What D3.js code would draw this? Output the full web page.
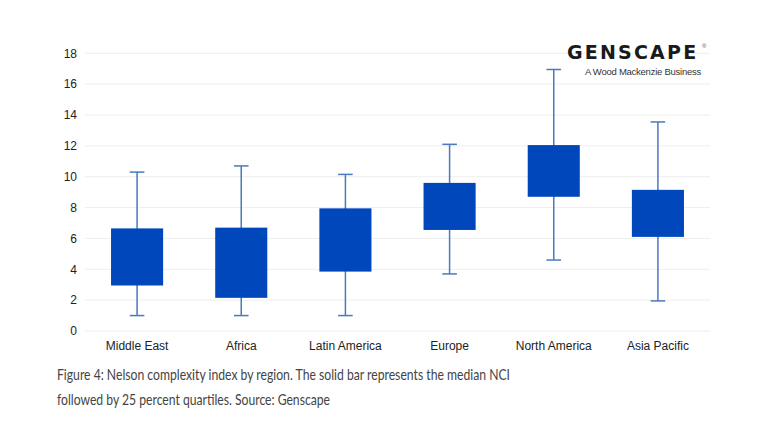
<!DOCTYPE html>
<html>
<head>
<meta charset="utf-8">
<script src="https://cdn.jsdelivr.net/npm/d3@7"></script>
<style>
  body { margin: 0; background: #fff; }
  svg text { font-family: "Liberation Sans", Arial, sans-serif; }
</style>
</head>
<body>
<div id="chart"></div>
<script>
var regions = ["Middle East", "Africa", "Latin America", "Europe", "North America", "Asia Pacific"];
var whiskerMin = [1.0, 1.0, 1.0, 3.7, 4.6, 1.95];
var quartileLow = [2.95, 2.15, 3.85, 6.55, 8.7, 6.1];
var quartileHigh = [6.65, 6.7, 7.95, 9.6, 12.05, 9.15];
var whiskerMax = [10.3, 10.7, 10.15, 12.1, 16.95, 13.55];
var yTicks = [0, 2, 4, 6, 8, 10, 12, 14, 16, 18];

var data = regions.map(function(r, i) {
    return { bucket: r, min: whiskerMin[i], q1: quartileLow[i], q3: quartileHigh[i], max: whiskerMax[i] };
});

var svg = d3.select("#chart")
    .append("svg")
    .attr("width", 766)
    .attr("height", 442);

var x = d3.scaleBand().domain(regions).range([85, 710]);
var y = d3.scaleLinear().domain([0, 18]).range([331, 53.3]);

// grid
svg.append("g").selectAll("line")
    .data(yTicks).enter()
    .append("line")
    .attr("x1", 85).attr("x2", 710)
    .attr("y1", function(d) { return y(d); })
    .attr("y2", function(d) { return y(d); })
    .attr("stroke", "#eeeeee")
    .attr("stroke-width", 1);

var yAxis = svg.append("g")
    .attr("transform", "translate(85,0)")
    .call(d3.axisLeft(y).tickValues(yTicks).tickSize(0).tickPadding(8));
yAxis.select(".domain").remove();
yAxis.selectAll("text").attr("font-size", 12).attr("fill", "#222")
    .style("font-family", "Liberation Sans, Arial, sans-serif");

var xAxis = svg.append("g")
    .attr("transform", "translate(0,331)")
    .call(d3.axisBottom(x).tickSize(0).tickPadding(10));
xAxis.select(".domain").remove();
xAxis.selectAll("text").attr("font-size", 12).attr("fill", "#222")
    .style("font-family", "Liberation Sans, Arial, sans-serif");

var boxWidth = 0.5 * x.bandwidth();
var capWidth = 0.14 * x.bandwidth();
var center = function(d) { return x(d.bucket) + x.bandwidth() / 2; };
var whiskerColor = "#4a78c2";

var boxes = svg.selectAll("g.box")
    .data(data).enter()
    .append("g")
    .attr("class", "box");

boxes.append("line")
    .attr("x1", center).attr("x2", center)
    .attr("y1", function(d) { return y(d.max); })
    .attr("y2", function(d) { return y(d.min); })
    .attr("stroke", whiskerColor).attr("stroke-width", 1.5);

boxes.append("line")
    .attr("x1", function(d) { return center(d) - capWidth / 2; })
    .attr("x2", function(d) { return center(d) + capWidth / 2; })
    .attr("y1", function(d) { return y(d.max); })
    .attr("y2", function(d) { return y(d.max); })
    .attr("stroke", whiskerColor).attr("stroke-width", 1.5);

boxes.append("line")
    .attr("x1", function(d) { return center(d) - capWidth / 2; })
    .attr("x2", function(d) { return center(d) + capWidth / 2; })
    .attr("y1", function(d) { return y(d.min); })
    .attr("y2", function(d) { return y(d.min); })
    .attr("stroke", whiskerColor).attr("stroke-width", 1.5);

boxes.append("rect")
    .attr("x", function(d) { return center(d) - boxWidth / 2; })
    .attr("y", function(d) { return y(d.q3); })
    .attr("width", boxWidth)
    .attr("height", function(d) { return y(d.q1) - y(d.q3); })
    .attr("fill", "#0047bb");

// logo
svg.append("text")
    .attr("x", 567).attr("y", 59)
    .attr("font-size", 19).attr("font-weight", "bold")
    .attr("letter-spacing", 2.2)
    .attr("fill", "#1a1a1a")
    .style("font-family", "DejaVu Sans, sans-serif")
    .text("GENSCAPE");
svg.append("text")
    .attr("x", 702).attr("y", 48)
    .attr("font-size", 6).attr("fill", "#555")
    .text("®");
svg.append("text")
    .attr("x", 701).attr("y", 75)
    .attr("text-anchor", "end")
    .attr("font-size", 9.5).attr("fill", "#333")
    .attr("letter-spacing", -0.25)
    .text("A Wood Mackenzie Business");

// caption
var caption = svg.append("g").attr("fill", "#444");
caption.append("text").attr("x", 57).attr("y", 380).attr("font-size", 15)
    .attr("textLength", 453).attr("lengthAdjust", "spacingAndGlyphs")
    .style("font-family", "Lato, sans-serif")
    .text("Figure 4: Nelson complexity index by region. The solid bar represents the median NCI");
caption.append("text").attr("x", 57).attr("y", 405).attr("font-size", 15)
    .attr("textLength", 273).attr("lengthAdjust", "spacingAndGlyphs")
    .style("font-family", "Lato, sans-serif")
    .text("followed by 25 percent quartiles. Source: Genscape");
</script>
</body>
</html>
